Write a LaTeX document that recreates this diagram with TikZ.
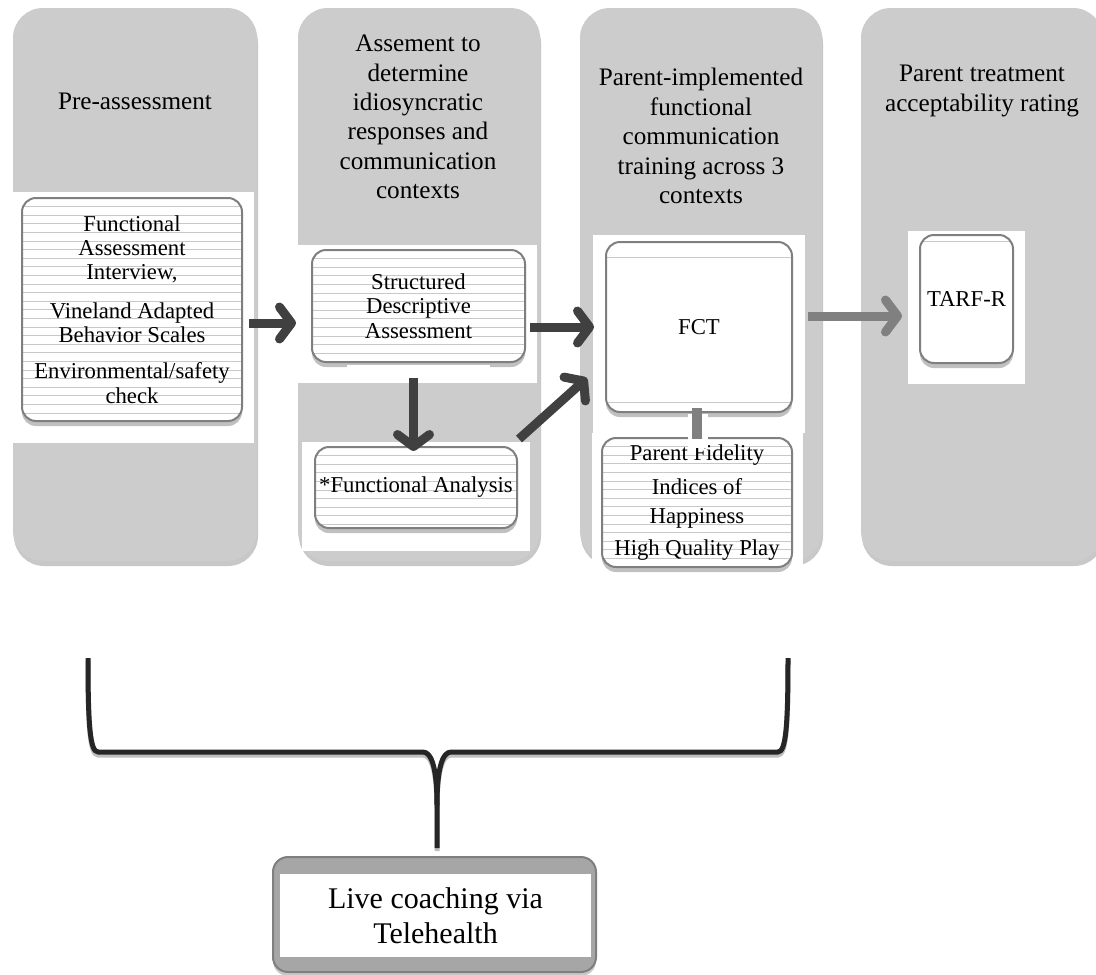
\documentclass[tikz,border=0pt]{standalone}
\usepackage{fontspec}
\setmainfont{Liberation Serif}
\usetikzlibrary{arrows.meta,shadows,calc}
\definecolor{colgray}{HTML}{CCCCCC}
\definecolor{boxborder}{HTML}{7F7F7F}
\definecolor{stripecol}{HTML}{C8C8C8}
\definecolor{darkarrow}{HTML}{404040}
\definecolor{midarrow}{HTML}{808080}
\definecolor{bracecol}{HTML}{262626}
\definecolor{livefill}{HTML}{A6A6A6}
\tikzset{
  column/.style={fill=colgray, draw=none, rounded corners=30pt, inner sep=0pt,
    drop shadow={shadow xshift=1pt, shadow yshift=-5pt, opacity=0.3, fill=black!70}},
  head/.style={align=center, inner sep=0pt, font=\fontsize{25.2}{29.4}\selectfont},
  lined/.style={path picture={
    \foreach \k in {1,...,40}{
      \draw[stripecol, line width=0.8pt]
        ([yshift=-\k*8.6pt]path picture bounding box.north west) --
        ([yshift=-\k*8.6pt]path picture bounding box.north east);
    }}},
  boxbase/.style={draw=boxborder, line width=2pt, fill=white, rounded corners=14pt,
    align=center, inner sep=0pt, font=\fontsize{22.7}{24.3}\selectfont,
    drop shadow={shadow xshift=0pt, shadow yshift=-5pt, opacity=0.35, fill=black!70}},
  lbox/.style={boxbase, lined},
  bigarrow/.style={draw=darkarrow, line width=9pt,
    -{Straight Barb[length=12pt,width=32pt,round]}},
  greyarrow/.style={draw=midarrow, line width=9pt,
    -{Straight Barb[length=12pt,width=32pt,round]}},
  livebox/.style={draw=boxborder, line width=2pt, fill=livefill, rounded corners=15pt,
    inner sep=0pt, drop shadow={shadow xshift=0pt, shadow yshift=-4pt, opacity=0.3, fill=black!70}},
  livetext/.style={fill=white, inner sep=0pt, align=center,
    font=\fontsize{30}{35}\selectfont},
  bracepath/.style={draw=bracecol, line width=5pt, line join=round},
}
\begin{document}
\begin{tikzpicture}[x=1pt,y=-1pt]
\useasboundingbox (0,0) rectangle (1096,975);
\fill[white] (0,0) rectangle (1096,975);

% columns
\node[column, minimum width=244pt, minimum height=553pt] (c1) at (135,284.5) {};
\node[column, minimum width=242pt, minimum height=553pt] (c2) at (419,284.5) {};
\node[column, minimum width=242pt, minimum height=553pt] (c3) at (701,284.5) {};
\node[column, minimum width=242pt, minimum height=553pt] (c4) at (982,284.5) {};

% headers
\node[head] (h1) at (135,101) {Pre-assessment};
\node[head] (h2) at (418,117) {Assement to\\determine\\idiosyncratic\\responses and\\communication\\contexts};
\node[head] (h3) at (701,136) {Parent-implemented\\functional\\communication\\training across 3\\contexts};
\node[head] (h4) at (982,91) {Parent treatment\\acceptability rating};

% white backgrounds
\fill[white] (10,192) rectangle (254,443);
\fill[white] (298,245) rectangle (537,383);
\fill[white] (302,442) rectangle (530,551);
\fill[white] (593,235) rectangle (805,433);
\fill[white] (592,433) rectangle (803,578);
\fill[white] (908,231) rectangle (1025,384);

% boxes
\node[lbox, minimum width=220pt, minimum height=223pt] (a) at (132,309.5)
  {Functional\\Assessment\\Interview,\\[14pt]Vineland Adapted\\Behavior Scales\\[12pt]Environmental/safety\\check};
\node[lbox, minimum width=213pt, minimum height=112pt] (b) at (418.5,306)
  {Structured\\Descriptive\\Assessment};
\fill[white] (347,365) rectangle (490,372);
\node[lbox, minimum width=202pt, minimum height=81pt] (c) at (416,487.5)
  {*Functional Analysis};
\node[boxbase, minimum width=186pt, minimum height=170pt,
  path picture={
    \draw[stripecol, line width=0.8pt] ([yshift=-15pt]path picture bounding box.north west) -- ([yshift=-15pt]path picture bounding box.north east);
    \draw[stripecol, line width=0.8pt] ([yshift=10pt]path picture bounding box.south west) -- ([yshift=10pt]path picture bounding box.south east);
  }] (fct) at (699,327) {FCT};
\node[lbox, minimum width=190pt, minimum height=129pt, font=\fontsize{22.7}{29}\selectfont] (m) at (697,502.5)
  {Parent Fidelity\\[5pt]Indices of\\Happiness\\[3pt]High Quality Play};
\node[boxbase, minimum width=93pt, minimum height=128pt,
  path picture={
    \draw[stripecol, line width=0.8pt] ([yshift=-6pt]path picture bounding box.north west) -- ([yshift=-6pt]path picture bounding box.north east);
  }] (t) at (966.5,299) {TARF-R};

% connectors
\draw[bigarrow, shorten <=6pt, shorten >=15pt] ([yshift=-13.5pt]a.east) -- ([yshift=-13.5pt]a.east -| b.west);
\draw[bigarrow, shorten <=4pt, shorten >=11pt] (b.east |- fct.west) -- (fct.west);
\draw[bigarrow, shorten <=15pt, shorten >=-5pt] ([xshift=-5pt]b.south) -- ([xshift=-5pt]b.south |- c.north);
\draw[bigarrow] ([xshift=1pt,yshift=7pt]c.north east) -- ([xshift=-18pt,yshift=-51pt]fct.west);
\draw[greyarrow, shorten <=15pt, shorten >=17pt] ([yshift=11pt]fct.east) -- ([yshift=11pt]fct.east -| t.west);
\fill[white] (688,414) rectangle (708,448);
\draw[midarrow, line width=10pt, shorten <=-5pt, shorten >=-2pt] ([xshift=-2pt]fct.south) -- (m.north);

% brace
\draw[black!25, line width=5pt, yshift=-3pt]
  (88,658) .. controls (88,725) and (90,752) .. (98,752) -- (423,752)
  .. controls (432,752) and (437,770) .. (437,805) -- (437,848);
\draw[black!25, line width=5pt, yshift=-3pt]
  (788,658) .. controls (788,725) and (786,752) .. (778,752) -- (451,752)
  .. controls (442,752) and (437,770) .. (437,805);
\draw[bracepath]
  (88,658) .. controls (88,725) and (90,752) .. (98,752) -- (423,752)
  .. controls (432,752) and (437,770) .. (437,805) -- (437,848);
\draw[bracepath]
  (788,658) .. controls (788,725) and (786,752) .. (778,752) -- (451,752)
  .. controls (442,752) and (437,770) .. (437,805);

% live coaching
\node[livebox, minimum width=323pt, minimum height=115pt] (lb) at (434.5,914.5) {};
\node[livetext, minimum width=311pt, minimum height=83pt] (lt) at (435.5,915.5) {Live coaching via\\Telehealth};
\end{tikzpicture}
\end{document}
